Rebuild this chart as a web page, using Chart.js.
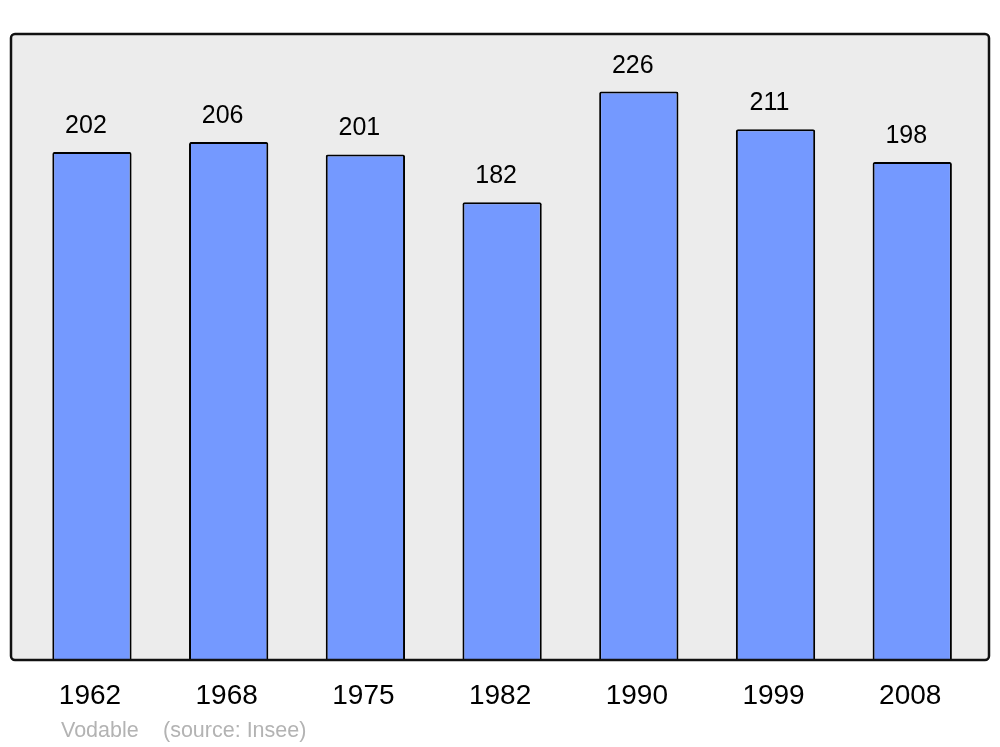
<!DOCTYPE html>
<html>
<head>
<meta charset="utf-8">
<script src="https://cdn.jsdelivr.net/npm/chart.js@4/dist/chart.umd.min.js"></script>
<style>
  html, body { margin: 0; padding: 0; background: #fff; }
  #wrap { width: 1000px; height: 747px; }
</style>
</head>
<body>
<div id="wrap"><canvas id="grafik" width="1000" height="747"></canvas></div>
<script>
const tahun = ["1962", "1968", "1975", "1982", "1990", "1999", "2008"];
const penduduk = [202, 206, 201, 182, 226, 211, 198];
const catatan = ["Vodable", "(source: Insee)"];

const FONT = "'Liberation Sans', Arial, sans-serif";

// kotak abu-abu di belakang batang
const bingkai = {
  id: 'bingkai',
  beforeDatasetsDraw(chart) {
    const ctx = chart.ctx;
    const a = chart.chartArea;
    const x0 = 11, x1 = 989, y0 = a.top, y1 = a.bottom;
    ctx.save();
    ctx.beginPath();
    ctx.roundRect(x0, y0, x1 - x0, y1 - y0, 4);
    ctx.fillStyle = '#ececec';
    ctx.fill();
    ctx.restore();
  },
  afterDatasetsDraw(chart) {
    const ctx = chart.ctx;
    const a = chart.chartArea;
    const x0 = 11, x1 = 989, y0 = a.top, y1 = a.bottom;
    ctx.save();
    ctx.beginPath();
    ctx.roundRect(x0, y0, x1 - x0, y1 - y0, 4);
    ctx.lineWidth = 2.5;
    ctx.strokeStyle = '#111';
    ctx.stroke();
    ctx.restore();
  }
};

// angka di atas batang, label tahun, dan sumber
const label = {
  id: 'label',
  afterDraw(chart) {
    const ctx = chart.ctx;
    const xs = chart.scales.x;
    const meta = chart.getDatasetMeta(0);
    ctx.save();
    ctx.textAlign = 'center';
    ctx.textBaseline = 'alphabetic';
    ctx.fillStyle = '#000';
    ctx.font = '25px ' + FONT;
    meta.data.forEach((bar, i) => {
      ctx.fillText(String(penduduk[i]), bar.x - 6, bar.y - 19);
    });
    ctx.font = '28px ' + FONT;
    tahun.forEach((t, i) => {
      ctx.fillText(t, xs.getPixelForValue(i) - 2, 704);
    });
    ctx.textAlign = 'left';
    ctx.fillStyle = '#b3b3b3';
    ctx.font = '21.5px ' + FONT;
    ctx.fillText(catatan[0], 61, 737);
    ctx.fillText(catatan[1], 163, 737);
    ctx.restore();
  }
};

new Chart(document.getElementById('grafik').getContext('2d'), {
  type: 'bar',
  data: {
    labels: tahun,
    datasets: [{
      data: penduduk,
      backgroundColor: '#7499ff',
      borderColor: '#000',
      borderWidth: 2,
      borderRadius: { topLeft: 2, topRight: 2, bottomLeft: 0, bottomRight: 0 },
      borderSkipped: 'bottom',
      categoryPercentage: 1,
      barPercentage: 0.58
    }]
  },
  options: {
    responsive: false,
    animation: false,
    layout: { padding: { top: 34, bottom: 87, left: 23.6, right: 19.4 } },
    plugins: { legend: { display: false }, tooltip: { enabled: false } },
    scales: {
      x: { display: false },
      y: { display: false, min: 0, max: 248.9 }
    }
  },
  plugins: [bingkai, label]
});
</script>
</body>
</html>
